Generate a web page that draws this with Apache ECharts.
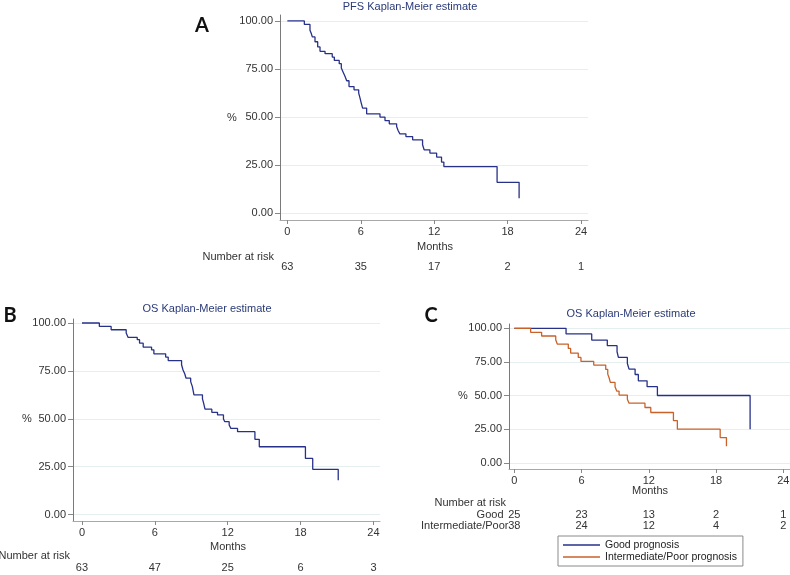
<!DOCTYPE html>
<html>
<head>
<meta charset="utf-8">
<script src="https://cdn.jsdelivr.net/npm/echarts@6/dist/echarts.min.js"></script>
<style>
  html, body { margin: 0; padding: 0; background: #fff; }
  #main { width: 790px; height: 575px; }
</style>
</head>
<body>
<div id="main"></div>
<script>
var dom = document.getElementById("main");
var myChart = echarts.init(dom);
var option = null;

// tick labels
var monthTicks = [0, 6, 12, 18, 24];
var pctTicks = [0, 25, 50, 75, 100];

// A: PFS
var pfsMonths = [0, 1.39, 1.85, 1.95, 2.04, 2.26, 2.48, 2.67, 3.08, 3.67, 3.84, 4.24, 4.41, 4.57, 4.71, 4.85, 5.04, 5.45, 5.83, 5.94, 6.04, 6.15, 6.48, 7.57, 7.98, 8.33, 8.93, 9.06, 9.2, 9.69, 10.24, 11.05, 11.18, 11.65, 12.2, 12.6, 12.79, 17.14, 18.94];
var pfsSurv = [100, 98.2, 95.2, 93.6, 91.7, 89.2, 86.5, 84.2, 83.0, 81.2, 79.5, 77.8, 75.5, 73.2, 71.2, 68.9, 65.9, 64.2, 62.5, 59.9, 57.3, 54.7, 51.7, 50.0, 48.2, 46.5, 45.1, 42.9, 41.3, 39.9, 38.2, 35.6, 33.0, 31.3, 29.2, 26.6, 24.3, 16.1, 7.8];
var pfsRisk = [63, 35, 17, 2, 1];

// B: OS
var osMonths = [0, 1.43, 2.4, 3.64, 3.8, 4.55, 4.74, 5.04, 5.73, 5.92, 6.89, 7.1, 8.2, 8.32, 8.46, 8.57, 8.95, 9.09, 9.22, 9.92, 10.02, 10.13, 10.69, 11.16, 11.65, 11.76, 12.12, 12.26, 12.81, 14.24, 14.6, 18.4, 19.0, 21.1];
var osSurv = [100, 98.2, 96.5, 94.8, 92.5, 91.3, 89.5, 87.4, 86.0, 83.9, 82.2, 80.4, 78.2, 75.5, 73.5, 71.2, 69.4, 66.8, 62.5, 60.4, 58.1, 55.0, 53.4, 52.0, 49.9, 48.5, 46.8, 45.0, 43.3, 39.3, 35.4, 29.3, 23.6, 17.9];
var osRisk = [63, 47, 25, 6, 3];

// C: OS by prognosis
var goodMonths = [0, 4.62, 6.91, 8.3, 9.17, 9.29, 10.09, 10.24, 10.78, 11.07, 11.85, 12.77, 21.04];
var goodSurv = [100, 95.8, 91.3, 87.1, 82.6, 78.4, 73.9, 69.7, 65.7, 61.0, 56.7, 50.1, 25.1];
var goodRisk = [25, 23, 13, 2, 1];
var poorMonths = [0, 1.46, 2.44, 3.7, 3.84, 4.82, 5.03, 5.71, 5.95, 7.09, 8.16, 8.34, 8.46, 8.57, 8.99, 9.14, 9.35, 10.09, 10.24, 11.66, 12.18, 14.2, 14.55, 18.37, 18.93];
var poorSurv = [100, 97.0, 94.3, 91.3, 88.3, 85.1, 81.6, 78.4, 75.4, 72.7, 69.5, 66.0, 63.3, 59.8, 56.6, 53.4, 50.4, 47.4, 44.4, 41.2, 37.5, 31.5, 25.1, 18.9, 12.4];
var poorRisk = [38, 24, 12, 4, 2];

var FONT = '"Liberation Sans", Arial, sans-serif';
var NAVY = '#27318a';
var ORANGE = '#c8622a';
var TITLE = '#2a3a78';

function pairs(xs, ys) {
    var out = [];
    for (var i = 0; i < xs.length; i++) out.push([xs[i], ys[i]]);
    return out;
}

// main x axis of a panel
function mainX(grid, min, max) {
    return {
        type: 'value', gridIndex: grid, min: min, max: max,
        axisLine: { show: true, onZero: false, lineStyle: { color: '#a8a8a8', width: 1 } },
        axisTick: { show: true, length: 4, customValues: monthTicks, lineStyle: { color: '#888' } },
        axisLabel: { customValues: monthTicks, margin: 6, fontSize: 11, fontFamily: FONT, color: '#333' },
        splitLine: { show: false }
    };
}
// number-at-risk row, drawn as an extra axis under the panel
function riskX(grid, min, max, offset, risk) {
    return {
        type: 'value', gridIndex: grid, min: min, max: max, position: 'bottom', offset: offset,
        axisLine: { show: false, onZero: false }, axisTick: { show: false }, splitLine: { show: false },
        axisLabel: {
            customValues: monthTicks, margin: 6, fontSize: 11, fontFamily: FONT, color: '#333',
            formatter: function (v) { return String(risk[Math.round(v / 6)]); }
        }
    };
}
function mainY(grid, min, max) {
    return {
        type: 'value', gridIndex: grid, min: min, max: max,
        axisLine: { show: true, onZero: false, lineStyle: { color: '#7a7a7a', width: 1 } },
        axisTick: { show: true, length: 5, customValues: pctTicks, lineStyle: { color: '#888' } },
        axisLabel: {
            customValues: pctTicks, margin: 7, fontSize: 11, fontFamily: FONT, color: '#333',
            formatter: function (v) { return v.toFixed(2); }
        },
        splitLine: { show: true, lineStyle: { color: '#e6eff0', width: 1 } }
    };
}
function txt(x, y, s, opts) {
    opts = opts || {};
    return {
        type: 'text', x: x, y: y, silent: true,
        style: {
            text: s, fill: opts.fill || '#333',
            font: (opts.weight || 'normal') + ' ' + (opts.size || 11) + 'px ' + (opts.family || FONT),
            textAlign: opts.align || 'center', textVerticalAlign: 'middle'
        }
    };
}

option = {
    animation: false,
    backgroundColor: '#fff',
    grid: [
        { left: 280, top: 15, width: 308, height: 205, outerBoundsMode: 'none' },
        { left: 73, top: 319, width: 307, height: 202, outerBoundsMode: 'none' },
        { left: 509, top: 324, width: 281, height: 145, outerBoundsMode: 'none' }
    ],
    xAxis: [
        mainX(0, -0.6, 24.57),
        mainX(1, -0.74, 24.54),
        mainX(2, -0.47, 24.6),
        riskX(0, -0.6, 24.57, 35, pfsRisk),
        riskX(1, -0.74, 24.54, 35, osRisk),
        riskX(2, -0.47, 24.6, 34, goodRisk),
        riskX(2, -0.47, 24.6, 45, poorRisk)
    ],
    yAxis: [
        mainY(0, -3.5, 103.1),
        mainY(1, -3.35, 102.1),
        mainY(2, -4.46, 103.2)
    ],
    legend: {
        data: [
            { name: 'Good prognosis', icon: 'rect' },
            { name: 'Intermediate/Poor prognosis', icon: 'rect' }
        ],
        orient: 'vertical', left: 558, top: 536,
        padding: [3, 6, 3, 5], itemGap: 0, itemWidth: 37, itemHeight: 1.4,
        borderColor: '#8a8a8a', borderWidth: 1, borderRadius: 0,
        textStyle: { fontSize: 10.5, fontFamily: FONT, color: '#222', lineHeight: 12 }
    },
    graphic: [
        txt(202, 25.5, 'A', { size: 20, weight: 'bold', family: 'Lato, sans-serif', fill: '#111' }),
        txt(10, 316, 'B', { size: 20, weight: 'bold', family: 'Lato, sans-serif', fill: '#111' }),
        txt(431, 316, 'C', { size: 20, weight: 'bold', family: 'Lato, sans-serif', fill: '#111' }),
        txt(410, 7, 'PFS Kaplan-Meier estimate', { fill: TITLE }),
        txt(207, 309, 'OS Kaplan-Meier estimate', { fill: TITLE }),
        txt(631, 313.5, 'OS Kaplan-Meier estimate', { fill: TITLE }),
        txt(232, 117.5, '%'),
        txt(27, 418.7, '%'),
        txt(463, 395.7, '%'),
        txt(435, 247, 'Months'),
        txt(228, 546.7, 'Months'),
        txt(650, 490.7, 'Months'),
        txt(274, 256.7, 'Number at risk', { align: 'right' }),
        txt(70, 556, 'Number at risk', { align: 'right' }),
        txt(506, 503.3, 'Number at risk', { align: 'right' }),
        txt(503.5, 514.7, 'Good', { align: 'right' }),
        txt(508.5, 526, 'Intermediate/Poor', { align: 'right' })
    ],
    series: [
        {
            name: 'PFS', type: 'line', step: 'end', xAxisIndex: 0, yAxisIndex: 0,
            symbol: 'none', data: pairs(pfsMonths, pfsSurv),
            lineStyle: { color: NAVY, width: 1.3 }, itemStyle: { color: NAVY }
        },
        {
            name: 'OS', type: 'line', step: 'end', xAxisIndex: 1, yAxisIndex: 1,
            symbol: 'none', data: pairs(osMonths, osSurv),
            lineStyle: { color: NAVY, width: 1.3 }, itemStyle: { color: NAVY }
        },
        {
            name: 'Good prognosis', type: 'line', step: 'end', xAxisIndex: 2, yAxisIndex: 2,
            symbol: 'none', data: pairs(goodMonths, goodSurv),
            lineStyle: { color: NAVY, width: 1.3 }, itemStyle: { color: NAVY }
        },
        {
            name: 'Intermediate/Poor prognosis', type: 'line', step: 'end', xAxisIndex: 2, yAxisIndex: 2,
            symbol: 'none', data: pairs(poorMonths, poorSurv),
            lineStyle: { color: ORANGE, width: 1.3 }, itemStyle: { color: ORANGE }
        }
    ]
};
if (option && typeof option === "object") {
    myChart.setOption(option, true);
}
</script>
</body>
</html>
